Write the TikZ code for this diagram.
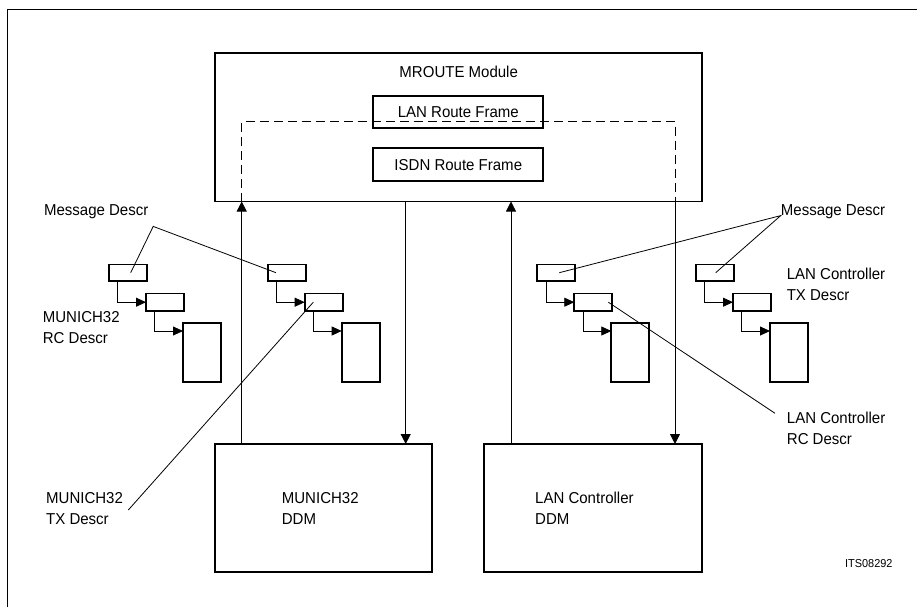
\documentclass[tikz,border=0pt]{standalone}
\usepackage{fontspec}
\setmainfont{Liberation Sans}[FakeStretch=0.95]
\usetikzlibrary{arrows.meta}
\begin{document}
\begin{tikzpicture}[x=1pt,y=-1pt,
  box/.style={draw,line width=1.9pt,inner sep=0pt,outer sep=0pt},
  sbox/.style={box,line width=1.7pt,minimum width=38pt},
  lbl/.style={inner sep=0pt,font=\fontsize{15.8}{21}\selectfont,align=left},
  ln/.style={line width=0.8pt},
  arr/.style={ln,-{Triangle[length=10pt,width=10pt]}},
  sarr/.style={ln,-{Triangle[length=10pt,width=9pt]}},
]
\useasboundingbox (0,0) rectangle (917,607);
\draw[line width=1pt] (7.3,607) -- (7.3,9.3) -- (917,9.3);

% MROUTE module
\node[box,minimum width=487pt,minimum height=148.5pt] (mr) at (458.5,127.25) {};
\node[lbl] (mrt) at (458.7,72.3) {MROUTE Module};
\node[box,minimum width=170pt,minimum height=31.7pt,font=\fontsize{15.8}{18}\selectfont] (lan) at (458.3,111.8) {LAN Route Frame};
\node[box,minimum width=170pt,minimum height=32.7pt,font=\fontsize{15.8}{18}\selectfont] (isdn) at (458.3,164.7) {ISDN Route Frame};

% DDM boxes
\node[box,minimum width=217.3pt,minimum height=128.3pt] (mdd) at (323.65,508.15) {};
\node[box,minimum width=218pt,minimum height=128.3pt] (ldd) at (593.3,508.15) {};
\node[lbl,anchor=west] (mddt) at (281.7,508.5) {MUNICH32\\DDM};
\node[lbl,anchor=west] (lddt) at (535,508.5) {LAN Controller\\DDM};

% vertical arrows
\coordinate (xa) at (241.7,0);
\coordinate (xb) at (405.7,0);
\coordinate (xc) at (511,0);
\coordinate (xd) at (675,0);
\coordinate (dt) at (0,121.7);
\draw[arr] (mdd.north -| xa) -- (mr.south -| xa);
\draw[arr] (mr.south -| xb) -- (mdd.north -| xb);
\draw[arr] (ldd.north -| xc) -- (mr.south -| xc);
\draw[arr] (mr.south -| xd) -- (ldd.north -| xd);
\draw[ln,dash pattern=on 9pt off 5pt] (mr.south -| xa) -- (dt -| xa) -- (dt -| xd) -- (mr.south -| xd);

% descriptor groups
\foreach \i/\x in {1/109,2/267.7,3/537.3,4/696}{
  \node[sbox,minimum height=16.7pt] (g\i-a) at (\x+19,272.7) {};
  \node[sbox,minimum height=17.7pt] (g\i-b) at (\x+56,302.2) {};
  \node[sbox,minimum height=59pt] (g\i-c) at (\x+93,352.5) {};
  \draw[sarr] ([xshift=8.7pt]g\i-a.south west) |- (g\i-b.west);
  \draw[sarr] ([xshift=8.7pt]g\i-b.south west) |- ([yshift=-8pt]g\i-c.north west);
}

% labels
\node[lbl,anchor=west] (md1) at (43.9,212) {Message Descr};
\node[lbl,anchor=west] (md2) at (780.7,212) {Message Descr};
\node[lbl,anchor=west] (mrc) at (42.7,327.8) {MUNICH32\\RC Descr};
\node[lbl,anchor=west] (ltx) at (786.6,284.5) {LAN Controller\\TX Descr};
\node[lbl,anchor=west] (lrc) at (786.7,428.8) {LAN Controller\\RC Descr};
\node[lbl,anchor=west] (mtx) at (46,508.5) {MUNICH32\\TX Descr};
\node[inner sep=0pt,font=\fontsize{11.5}{13}\selectfont,anchor=east] (its) at (892.7,564) {ITS08292};

% leader lines
\coordinate (v1) at (153.2,226.4);
\coordinate (v2) at (780.7,215.6);
\coordinate (v3) at (775,413.3);
\coordinate (v4) at (128.3,510);
\draw[ln] ([xshift=2.7pt]g1-a.center) -- (v1) -- ([xshift=-10.7pt]g2-a.center);
\draw[ln] ([xshift=3pt]g3-a.center) -- (v2) -- ([xshift=0.7pt]g4-a.center);
\draw[ln] (v3) -- ([xshift=15pt]g3-b.center);
\draw[ln] (v4) -- ([xshift=-10.4pt]g2-b.center);
\end{tikzpicture}
\end{document}
